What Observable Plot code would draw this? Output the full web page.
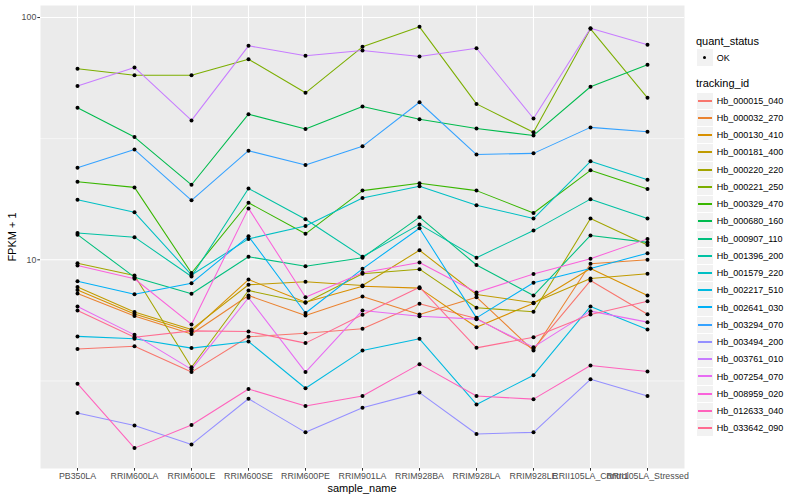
<!DOCTYPE html>
<html><head><meta charset="utf-8">
<script src="https://cdn.jsdelivr.net/npm/d3@7"></script>
<script src="https://cdn.jsdelivr.net/npm/@observablehq/plot@0.6"></script>
<style>
body{margin:0;background:#fff;}
#wrap{position:relative;width:800px;height:500px;font-family:"Liberation Sans",Arial,Helvetica,sans-serif;overflow:hidden;background:#fff;}
#plot{position:absolute;left:0;top:0;}
.t{position:absolute;white-space:nowrap;color:#000;line-height:1;}
.key{position:absolute;width:16px;height:16.2px;background:#F2F2F2;}
</style></head><body><div id="wrap"><div id="plot"></div></div>
<script>
const samples = ["PB350LA","RRIM600LA","RRIM600LE","RRIM600SE","RRIM600PE","RRIM901LA","RRIM928BA","RRIM928LA","RRIM928LE","RRII105LA_Control","RRII105LA_Stressed"];
const trackingIds = ["Hb_000015_040","Hb_000032_270","Hb_000130_410","Hb_000181_400","Hb_000220_220","Hb_000221_250","Hb_000329_470","Hb_000680_160","Hb_000907_110","Hb_001396_200","Hb_001579_220","Hb_002217_510","Hb_002641_030","Hb_003294_070","Hb_003494_200","Hb_003761_010","Hb_007254_070","Hb_008959_020","Hb_012633_040","Hb_033642_090"];
const trackingColors = ["#F8766D","#EA8331","#D89000","#C09B00","#A3A500","#7CAE00","#39B600","#00BB4E","#00BF7D","#00C1A3","#00BFC4","#00BAE0","#00B0F6","#35A2FF","#9590FF","#C77CFF","#E76BF3","#FA62DB","#FF62BC","#FF6C91"];
const yTicks = [10, 100];
const yMinorTicks = [3.1623, 31.623];

const hb_000015_040 = [4.28, 4.40, 3.44, 4.81, 4.98, 5.19, 6.58, 5.73, 4.29, 8.21, 5.96];
const hb_000032_270 = [7.26, 5.86, 4.94, 7.12, 5.89, 7.06, 5.95, 7.01, 4.22, 9.63, 10.0];
const hb_000130_410 = [7.51, 5.97, 5.06, 8.29, 6.68, 7.78, 7.64, 5.27, 6.62, 9.21, 7.12];
const hb_000181_400 = [7.72, 6.09, 5.16, 7.89, 8.11, 7.83, 10.95, 7.19, 6.65, 8.37, 8.76];
const hb_000220_220 = [9.68, 8.61, 3.60, 7.47, 6.65, 8.76, 9.15, 6.34, 6.10, 14.8, 11.5];
const hb_000221_250 = [61.4, 57.8, 57.8, 67.3, 48.9, 75.7, 91.5, 44.0, 33.6, 89.8, 46.6];
const hb_000329_470 = [21.0, 19.9, 8.82, 17.2, 12.8, 19.3, 20.7, 19.3, 15.6, 23.4, 19.6];
const hb_000680_160 = [42.4, 32.1, 20.4, 39.9, 34.7, 42.9, 38.0, 34.8, 32.6, 51.8, 63.8];
const hb_000907_110 = [12.7, 8.48, 7.24, 10.3, 9.41, 10.2, 15.0, 9.52, 7.12, 12.6, 11.8];
const hb_001396_200 = [12.9, 12.4, 8.53, 19.7, 14.7, 10.3, 14.0, 10.2, 13.2, 17.8, 14.8];
const hb_001579_220 = [17.7, 15.7, 8.66, 12.2, 13.8, 18.0, 20.1, 16.8, 14.8, 25.5, 21.4];
const hb_002217_510 = [4.83, 4.72, 4.32, 4.60, 2.95, 4.22, 4.72, 2.53, 3.34, 6.42, 5.16];
const hb_002641_030 = [8.16, 7.21, 8.01, 12.5, 6.03, 9.18, 13.5, 5.76, 8.04, 9.21, 10.65];
const hb_003294_070 = [24.0, 28.5, 17.6, 28.2, 24.6, 29.4, 44.7, 27.2, 27.5, 35.2, 33.8];
const hb_003494_200 = [2.33, 2.07, 1.73, 2.67, 1.94, 2.45, 2.83, 1.91, 1.94, 3.21, 2.74];
const hb_003761_010 = [52.2, 62.2, 37.6, 76.4, 69.5, 73.1, 69.0, 74.7, 38.3, 90.3, 77.2];
const hb_007254_070 = [6.42, 4.90, 3.53, 6.97, 3.44, 6.18, 5.85, 5.69, 4.36, 6.14, 5.53];
const hb_008959_020 = [9.47, 8.35, 5.41, 16.3, 7.01, 8.84, 9.75, 7.33, 8.74, 10.1, 12.2];
const hb_012633_040 = [3.08, 1.67, 2.08, 2.93, 2.49, 2.74, 3.71, 2.74, 2.66, 3.66, 3.46];
const hb_033642_090 = [6.18, 4.79, 5.09, 5.06, 4.53, 5.93, 7.71, 4.33, 4.79, 5.95, 6.75];

const seriesValues = [hb_000015_040, hb_000032_270, hb_000130_410, hb_000181_400, hb_000220_220, hb_000221_250, hb_000329_470, hb_000680_160, hb_000907_110, hb_001396_200, hb_001579_220, hb_002217_510, hb_002641_030, hb_003294_070, hb_003494_200, hb_003761_010, hb_007254_070, hb_008959_020, hb_012633_040, hb_033642_090];

const rows = [];
trackingIds.forEach((id, k) => samples.forEach((s, i) => rows.push({id, sample: s, fpkm: seriesValues[k][i], status: "OK"})));

const FONT = '"Liberation Sans",Arial,Helvetica,sans-serif';
const chart = Plot.plot({
  width: 690, height: 500,
  marginLeft: 40, marginRight: 6, marginTop: 5, marginBottom: 32,
  style: {fontFamily: FONT, background: "transparent", overflow: "visible"},
  x: {type: "point", domain: samples, padding: 0.6},
  y: {type: "log", domain: [1.376, 112.1]},
  color: {domain: trackingIds, range: trackingColors},
  marks: [
    Plot.frame({fill: "#EBEBEB", stroke: "none"}),
    Plot.gridY(yMinorTicks, {stroke: "white", strokeOpacity: 1, strokeWidth: 0.55}),
    Plot.gridY(yTicks, {stroke: "white", strokeOpacity: 1, strokeWidth: 1.1}),
    Plot.gridX(samples, {stroke: "white", strokeOpacity: 1, strokeWidth: 1.1}),
    Plot.line(rows, {x: "sample", y: "fpkm", z: "id", stroke: "id", strokeWidth: 1.05}),
    Plot.dot(rows, {x: "sample", y: "fpkm", r: 2, fill: "black", stroke: "none"}),
    Plot.axisY(yTicks, {tickSize: 2.7, tickPadding: 1.5, fontSize: 8.8, tickFormat: d => String(d), label: null, fill: "#4D4D4D", stroke: "#333333"}),
    Plot.axisX(samples, {tickSize: 2.7, tickPadding: 2, fontSize: 8.8, label: null, fill: "#4D4D4D", stroke: "#333333"})
  ]
});
document.getElementById("plot").appendChild(chart);

const wrap = document.getElementById("wrap");
function addText(txt, x, y, size, opts = {}) {
  const d = document.createElement("div");
  d.className = "t";
  d.textContent = txt;
  d.style.fontSize = size + "px";
  d.style.left = x + "px";
  d.style.top = y + "px";
  d.style.transform = opts.transform || "translate(0,-50%)";
  if (opts.color) d.style.color = opts.color;
  wrap.appendChild(d);
  return d;
}
// axis titles
addText("FPKM + 1", 12, 236.5, 11, {transform: "translate(-50%,-50%) rotate(-90deg)"});
addText("sample_name", 362, 488, 11, {transform: "translate(-50%,-50%)"});

// legend: quant_status
addText("quant_status", 696, 40.7, 11);
const k0 = document.createElement("div");
k0.className = "key"; k0.style.left = "696.7px"; k0.style.top = "49.4px";
const dot = document.createElement("div");
dot.style.cssText = "position:absolute;left:6.2px;top:6.3px;width:3.6px;height:3.6px;border-radius:50%;background:#000;";
k0.appendChild(dot); wrap.appendChild(k0);
addText("OK", 716.7, 57.8, 9);

// legend: tracking_id
addText("tracking_id", 696, 83.3, 11);
trackingIds.forEach((id, i) => {
  const cy = 100.7 + 17.24 * i;
  const k = document.createElement("div");
  k.className = "key"; k.style.left = "696.7px"; k.style.top = (cy - 8.1) + "px";
  const ln = document.createElement("div");
  ln.style.cssText = "position:absolute;left:1px;right:1px;top:7px;height:2px;background:" + trackingColors[i] + ";";
  k.appendChild(ln); wrap.appendChild(k);
  addText(id, 716.7, cy, 9);
});
</script></body></html>
